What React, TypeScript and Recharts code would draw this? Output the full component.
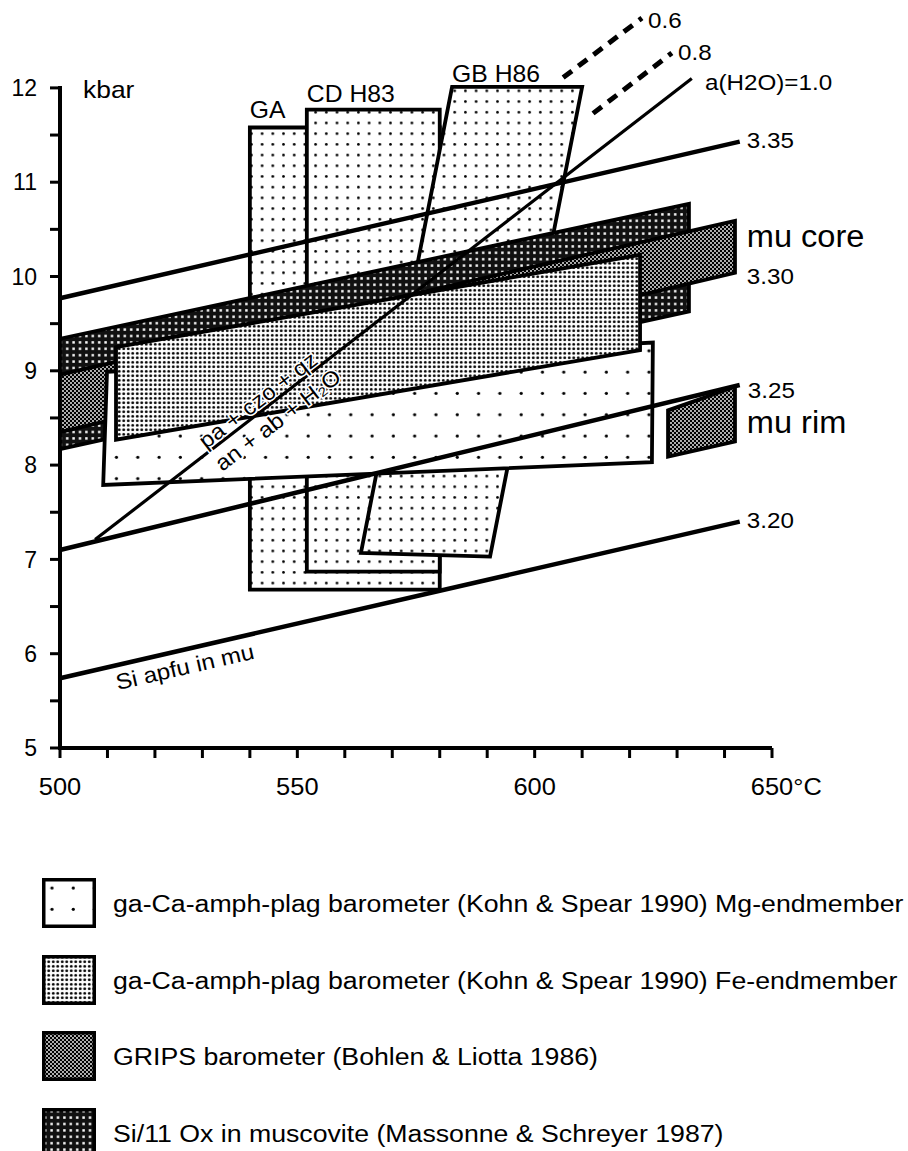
import { ComposedChart, Scatter, XAxis, YAxis, ReferenceLine } from 'recharts';

const FONT = '"Liberation Sans", Arial, Helvetica, sans-serif';

// axis ticks: temperature (°C) and pressure (kbar)
const xTicks = [500, 510, 520, 530, 540, 550, 560, 570, 580, 590, 600, 610, 620, 630, 640, 650];
const xLabelled = [500, 550, 600, 650];
const yTicks = [5, 5.5, 6, 6.5, 7, 7.5, 8, 8.5, 9, 9.5, 10, 10.5, 11, 11.5, 12];
const yLabelled = [5, 6, 7, 8, 9, 10, 11, 12];

// barometer fields, vertices as [T, P]
const gaBox = [[540, 11.58], [580, 11.58], [580, 6.68], [540, 6.68]];
const cdBox = [[552, 11.77], [580, 11.77], [580, 6.87], [552, 6.87]];
const gbBox = [[582.6, 12.01], [610, 12.01], [590.6, 7.03], [563.4, 7.07]];
const siBand = [[500, 9.34], [632.5, 10.77], [632.5, 9.63], [500, 8.17]];
const gripsCore = [[500, 8.96], [642.2, 10.59], [642.2, 10.04], [500, 8.35]];
const gripsRim = [[628.1, 8.58], [642.2, 8.83], [642.2, 8.25], [628.1, 8.09]];
const mgBox = [[509.9, 8.99], [624.9, 9.3], [624.7, 8.03], [509.1, 7.79]];
const feBox = [[511.8, 9.25], [622.2, 10.23], [622.2, 9.22], [511.8, 8.27]];

// Si isopleths in muscovite and the reaction line for several a(H2O)
const si335 = [[500, 9.77], [643.2, 11.43]];
const si325 = [[500, 7.1], [643.2, 8.85]];
const si320 = [[500, 5.74], [643.2, 7.4]];
const aw10 = [[507.4, 7.21], [633.1, 12.1]];
const aw08 = [[612.3, 11.73], [628.9, 12.37]];
const aw06 = [[606.0, 12.11], [622.6, 12.74]];

// annotations: text anchored at [T, P] (left edge, baseline)
const notes = [
  { t: 623.9, p: 12.64, text: '0.6' },
  { t: 630.2, p: 12.3, text: '0.8' },
  { t: 635.9, p: 11.98, text: 'a(H2O)=1.0' },
  { t: 644.7, p: 11.36, text: '3.35' },
  { t: 644.7, p: 9.92, text: '3.30' },
  { t: 644.9, p: 8.71, text: '3.25' },
  { t: 644.7, p: 7.33, text: '3.20' },
];
const axisNotes = [{ t: 504.85, p: 11.89, text: 'kbar' }];
const boxNames = [
  { t: 540.0, p: 11.68, text: 'GA' },
  { t: 552.0, p: 11.85, text: 'CD H83' },
  { t: 582.6, p: 12.06, text: 'GB H86' },
];
const muNotes = [
  { t: 644.7, p: 10.31, text: 'mu core' },
  { t: 644.7, p: 8.34, text: 'mu rim' },
];
// centred along the a(H2O) line and the 3.20 isopleth
const reactionNotes = [
  { t: 541.7, p: 8.69, text: 'pa + czo + qz' },
  { t: 545.9, p: 8.48, text: 'an + ab + H\u2082O' },
];
const isoNotes = [{ t: 526.3, p: 5.86, text: 'Si apfu in mu' }];

const legendRows = [
  { pattern: 'dotsSparse', text: 'ga-Ca-amph-plag barometer (Kohn & Spear 1990) Mg-endmember' },
  { pattern: 'dotsFe', text: 'ga-Ca-amph-plag barometer (Kohn & Spear 1990) Fe-endmember' },
  { pattern: 'grips', text: 'GRIPS barometer (Bohlen & Liotta 1986)' },
  { pattern: 'siDots', text: 'Si/11 Ox in muscovite (Massonne & Schreyer 1987)' },
];

const toPts = (v: number[][]) => v.map(([t, p]) => ({ t, p }));
const pointsAttr = (props: any) =>
  (props.points ?? []).map((q: any) => `${q.x},${q.y}`).join(' ');

const NoDot = () => <g />;

function polygonLine(fill: string) {
  return (props: any) => (
    <polygon
      points={pointsAttr(props)}
      fill={fill}
      stroke="#000"
      strokeWidth={3.8}
      strokeLinejoin="miter"
    />
  );
}

function strokeLine(width: number, dash?: string) {
  return (props: any) => (
    <polyline
      points={pointsAttr(props)}
      fill="none"
      stroke="#000"
      strokeWidth={width}
      strokeDasharray={dash}
    />
  );
}

function textShape(size: number, stretch: number, angle = 0, anchor = 'start', baseline = 'alphabetic') {
  return (props: any) => {
    const { cx, cy } = props;
    const text = props.text ?? props.payload?.text;
    return (
      <text
        transform={`translate(${cx},${cy}) rotate(${angle}) scale(${stretch},1)`}
        textAnchor={anchor}
        dominantBaseline={baseline}
        fontFamily={FONT}
        fontSize={size}
        fill="#000"
        stroke={angle ? '#fff' : 'none'}
        strokeWidth={angle ? 3 : 0}
        paintOrder="stroke"
      >
        {text}
      </text>
    );
  };
}

const XTick = (props: any) => {
  const { x, y, payload } = props;
  if (!xLabelled.includes(payload.value)) return <g />;
  const last = payload.value === 650;
  return (
    <text
      transform={`translate(${x},${y}) scale(1.06,1)`}
      textAnchor={last ? 'start' : 'middle'}
      dx={last ? '-0.834em' : 0}
      dy="0.71em"
      fontFamily={FONT}
      fontSize={24}
      fill="#000"
    >
      {last ? '650°C' : payload.value}
    </text>
  );
};

const YTick = (props: any) => {
  const { x, y, payload } = props;
  if (!yLabelled.includes(payload.value)) return <g />;
  return (
    <text
      x={x}
      y={y}
      textAnchor="end"
      dy="0.36em"
      fontFamily={FONT}
      fontSize={23}
      fill="#000"
    >
      {payload.value}
    </text>
  );
};

function Swatch({ pattern }: { pattern: string }) {
  return (
    <svg width={54} height={50} style={{ position: 'absolute', left: 42, top: 0 }}>
      <rect x={1.75} y={1.75} width={50.5} height={46.5} fill={`url(#${pattern})`} stroke="#000" strokeWidth={3.5} />
    </svg>
  );
}

export default function App() {
  const fieldSeries = [
    { data: gaBox, fill: 'url(#dotsLight)' },
    { data: cdBox, fill: 'url(#dotsLight)' },
    { data: gbBox, fill: 'url(#dotsLight)' },
    { data: siBand, fill: 'url(#siDots)' },
    { data: gripsCore, fill: 'url(#grips)' },
    { data: gripsRim, fill: 'url(#grips)' },
    { data: mgBox, fill: 'url(#dotsSparse)' },
    { data: feBox, fill: 'url(#dotsFe)' },
  ];
  const lineSeries = [
    { data: si335, width: 4.5 },
    { data: si325, width: 4.5 },
    { data: si320, width: 4.5 },
    { data: aw10, width: 3.2 },
    { data: aw08, width: 5, dash: '11 8' },
    { data: aw06, width: 5, dash: '11 8' },
  ];

  return (
    <div style={{ position: 'absolute', left: 0, top: 0, width: 908, height: 1151, background: '#fff', overflow: 'hidden' }}>
      <ComposedChart width={908} height={860} margin={{ top: 12.46, right: 136, bottom: 52, left: 0 }}>
        <defs>
          <pattern id="dotsLight" width={10.7} height={10.7} patternUnits="userSpaceOnUse">
            <rect width={10.7} height={10.7} fill="#fff" />
            <circle cx={5.3} cy={5.3} r={1.35} fill="#000" />
          </pattern>
          <pattern id="dotsSparse" width={21.3} height={21.3} patternUnits="userSpaceOnUse">
            <rect width={21.3} height={21.3} fill="#fff" />
            <circle cx={10} cy={10} r={1.6} fill="#000" />
          </pattern>
          <pattern id="dotsFe" width={4.5} height={4.5} patternUnits="userSpaceOnUse">
            <rect width={4.5} height={4.5} fill="#fff" />
            <circle cx={2.25} cy={2.25} r={1.45} fill="#000" />
          </pattern>
          <pattern id="grips" width={4} height={4} patternUnits="userSpaceOnUse">
            <rect width={4} height={4} fill="#000" />
            <circle cx={1} cy={1} r={0.9} fill="#fff" />
            <circle cx={3} cy={3} r={0.9} fill="#fff" />
          </pattern>
          <pattern id="siDots" width={6.4} height={6.4} patternUnits="userSpaceOnUse">
            <rect width={6.4} height={6.4} fill="#111" />
            <rect x={2} y={2} width={2.4} height={2.4} fill="#fff" />
          </pattern>
        </defs>
        <XAxis
          dataKey="t"
          type="number"
          domain={[500, 650]}
          ticks={xTicks}
          interval={0}
          height={60}
          tickSize={10}
          tickMargin={20}
          axisLine={{ stroke: '#000', strokeWidth: 4 }}
          tickLine={{ stroke: '#000', strokeWidth: 3 }}
          tick={<XTick />}
        />
        <YAxis
          dataKey="p"
          type="number"
          domain={[5, 12.8]}
          ticks={yTicks}
          interval={0}
          width={60}
          tickSize={10}
          tickMargin={13}
          axisLine={false}
          tickLine={{ stroke: '#000', strokeWidth: 3 }}
          tick={<YTick />}
        />
        <ReferenceLine
          segment={[{ x: 500, y: 5 }, { x: 500, y: 12 }]}
          stroke="#000"
          strokeWidth={4}
          strokeLinecap="square"
          ifOverflow="visible"
        />
        {fieldSeries.map((s, i) => (
          <Scatter
            key={`field-${i}`}
            data={toPts(s.data)}
            line={polygonLine(s.fill)}
            lineType="joint"
            shape={NoDot}
            isAnimationActive={false}
          />
        ))}
        {lineSeries.map((s, i) => (
          <Scatter
            key={`line-${i}`}
            data={toPts(s.data)}
            line={strokeLine(s.width, s.dash)}
            lineType="joint"
            shape={NoDot}
            isAnimationActive={false}
          />
        ))}
        <Scatter data={notes} shape={textShape(22, 1.1)} isAnimationActive={false} />
        <Scatter data={axisNotes} shape={textShape(24, 1.1)} isAnimationActive={false} />
        <Scatter data={boxNames} shape={textShape(24, 1.03)} isAnimationActive={false} />
        <Scatter data={muNotes} shape={textShape(31, 1.05)} isAnimationActive={false} />
        <Scatter data={reactionNotes} shape={textShape(22, 1.08, -37.5, 'middle', 'central')} isAnimationActive={false} />
        <Scatter data={isoNotes} shape={textShape(22, 1.1, -12.9, 'middle', 'central')} isAnimationActive={false} />
      </ComposedChart>
      {legendRows.map((row, i) => (
        <div key={row.text} style={{ position: 'absolute', left: 0, top: 878 + i * 76.7, width: 908, height: 50 }}>
          <Swatch pattern={row.pattern} />
          <div
            style={{
              position: 'absolute',
              left: 113,
              top: 0,
              height: 50,
              lineHeight: '52px',
              fontFamily: FONT,
              fontSize: 23,
              whiteSpace: 'nowrap',
              transform: 'scaleX(1.16)',
              transformOrigin: 'left center',
            }}
          >
            {row.text}
          </div>
        </div>
      ))}
    </div>
  );
}
